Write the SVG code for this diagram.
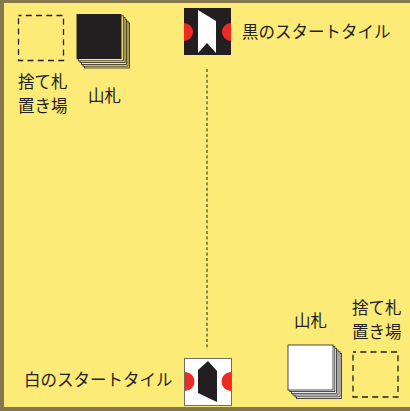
<svg xmlns="http://www.w3.org/2000/svg" width="410" height="411" viewBox="0 0 410 411">
<style>
text{font-family:"Noto Sans CJK JP",sans-serif;font-size:16.5px;fill:#231f20}
.d{fill:none;stroke:#231f20;stroke-width:1.3;stroke-dasharray:6 4.25;stroke-dashoffset:3}
.k{fill:#fdeb78;stroke:#231f20;stroke-width:.8}
.w{fill:#fff;stroke:#231f20;stroke-width:.8}
.r{fill:#ee2a24}
</style>
<rect width="410" height="411" fill="#85784f"/>
<rect x="4" y="3" width="406" height="404" fill="#fdeb78"/>
<g id="connectors"><line x1="207" y1="69" x2="207" y2="350" stroke="#231f20" stroke-width="1" stroke-dasharray="3 2.4"/></g>
<g id="discard-top"><rect class="d" x="18.5" y="15.5" width="45" height="45"/>
<text x="18" y="88">捨て札</text><text x="18" y="112">置き場</text></g>
<g id="deck-black"><rect class="k" x="84.500" y="23" width="45" height="45"/><rect class="k" x="83" y="21.200" width="45" height="45"/><rect class="k" x="81.500" y="19.400" width="45" height="45"/><rect class="k" x="80" y="17.600" width="45" height="45"/><rect class="k" x="78.300" y="15.800" width="45" height="45"/><rect x="76.500" y="14" width="45" height="45" fill="#231f20"/>
<text x="88" y="102">山札</text></g>
<g id="start-black"><rect x="184" y="8" width="47" height="47" fill="#231f20"/>
<path class="r" d="M184 23a9 9 0 0 1 0 18zM231 23a9 9 0 0 0 0 18z"/>
<path d="M198 10L216 21V53L207 43L198 53Z" fill="#fff"/>
<text x="242" y="38">黒のスタートタイル</text></g>
<g id="start-white"><rect x="184.500" y="358.500" width="47" height="47" fill="#fff" stroke="#6d6d6d"/>
<path class="r" d="M185 372a9.500 9.500 0 0 1 0 19zM231 372a9.500 9.500 0 0 0 0 19z"/>
<path d="M208 361L217 371V402L198 393V370Z" fill="#231f20"/>
<text x="24" y="386">白のスタートタイル</text></g>
<g id="deck-white"><rect class="w" x="296.500" y="353.500" width="45" height="45"/><rect class="w" x="295" y="351.800" width="45" height="45"/><rect class="w" x="293" y="350" width="45" height="45"/><rect class="w" x="291.500" y="348.300" width="45" height="45"/><rect class="w" x="289.800" y="346.600" width="45" height="45"/><rect class="w" x="288" y="345" width="45" height="45"/>
<text x="294" y="327">山札</text></g>
<g id="discard-bottom"><rect class="d" x="353" y="352" width="45" height="45"/>
<text x="352" y="314">捨て札</text><text x="352" y="338">置き場</text></g>
</svg>
